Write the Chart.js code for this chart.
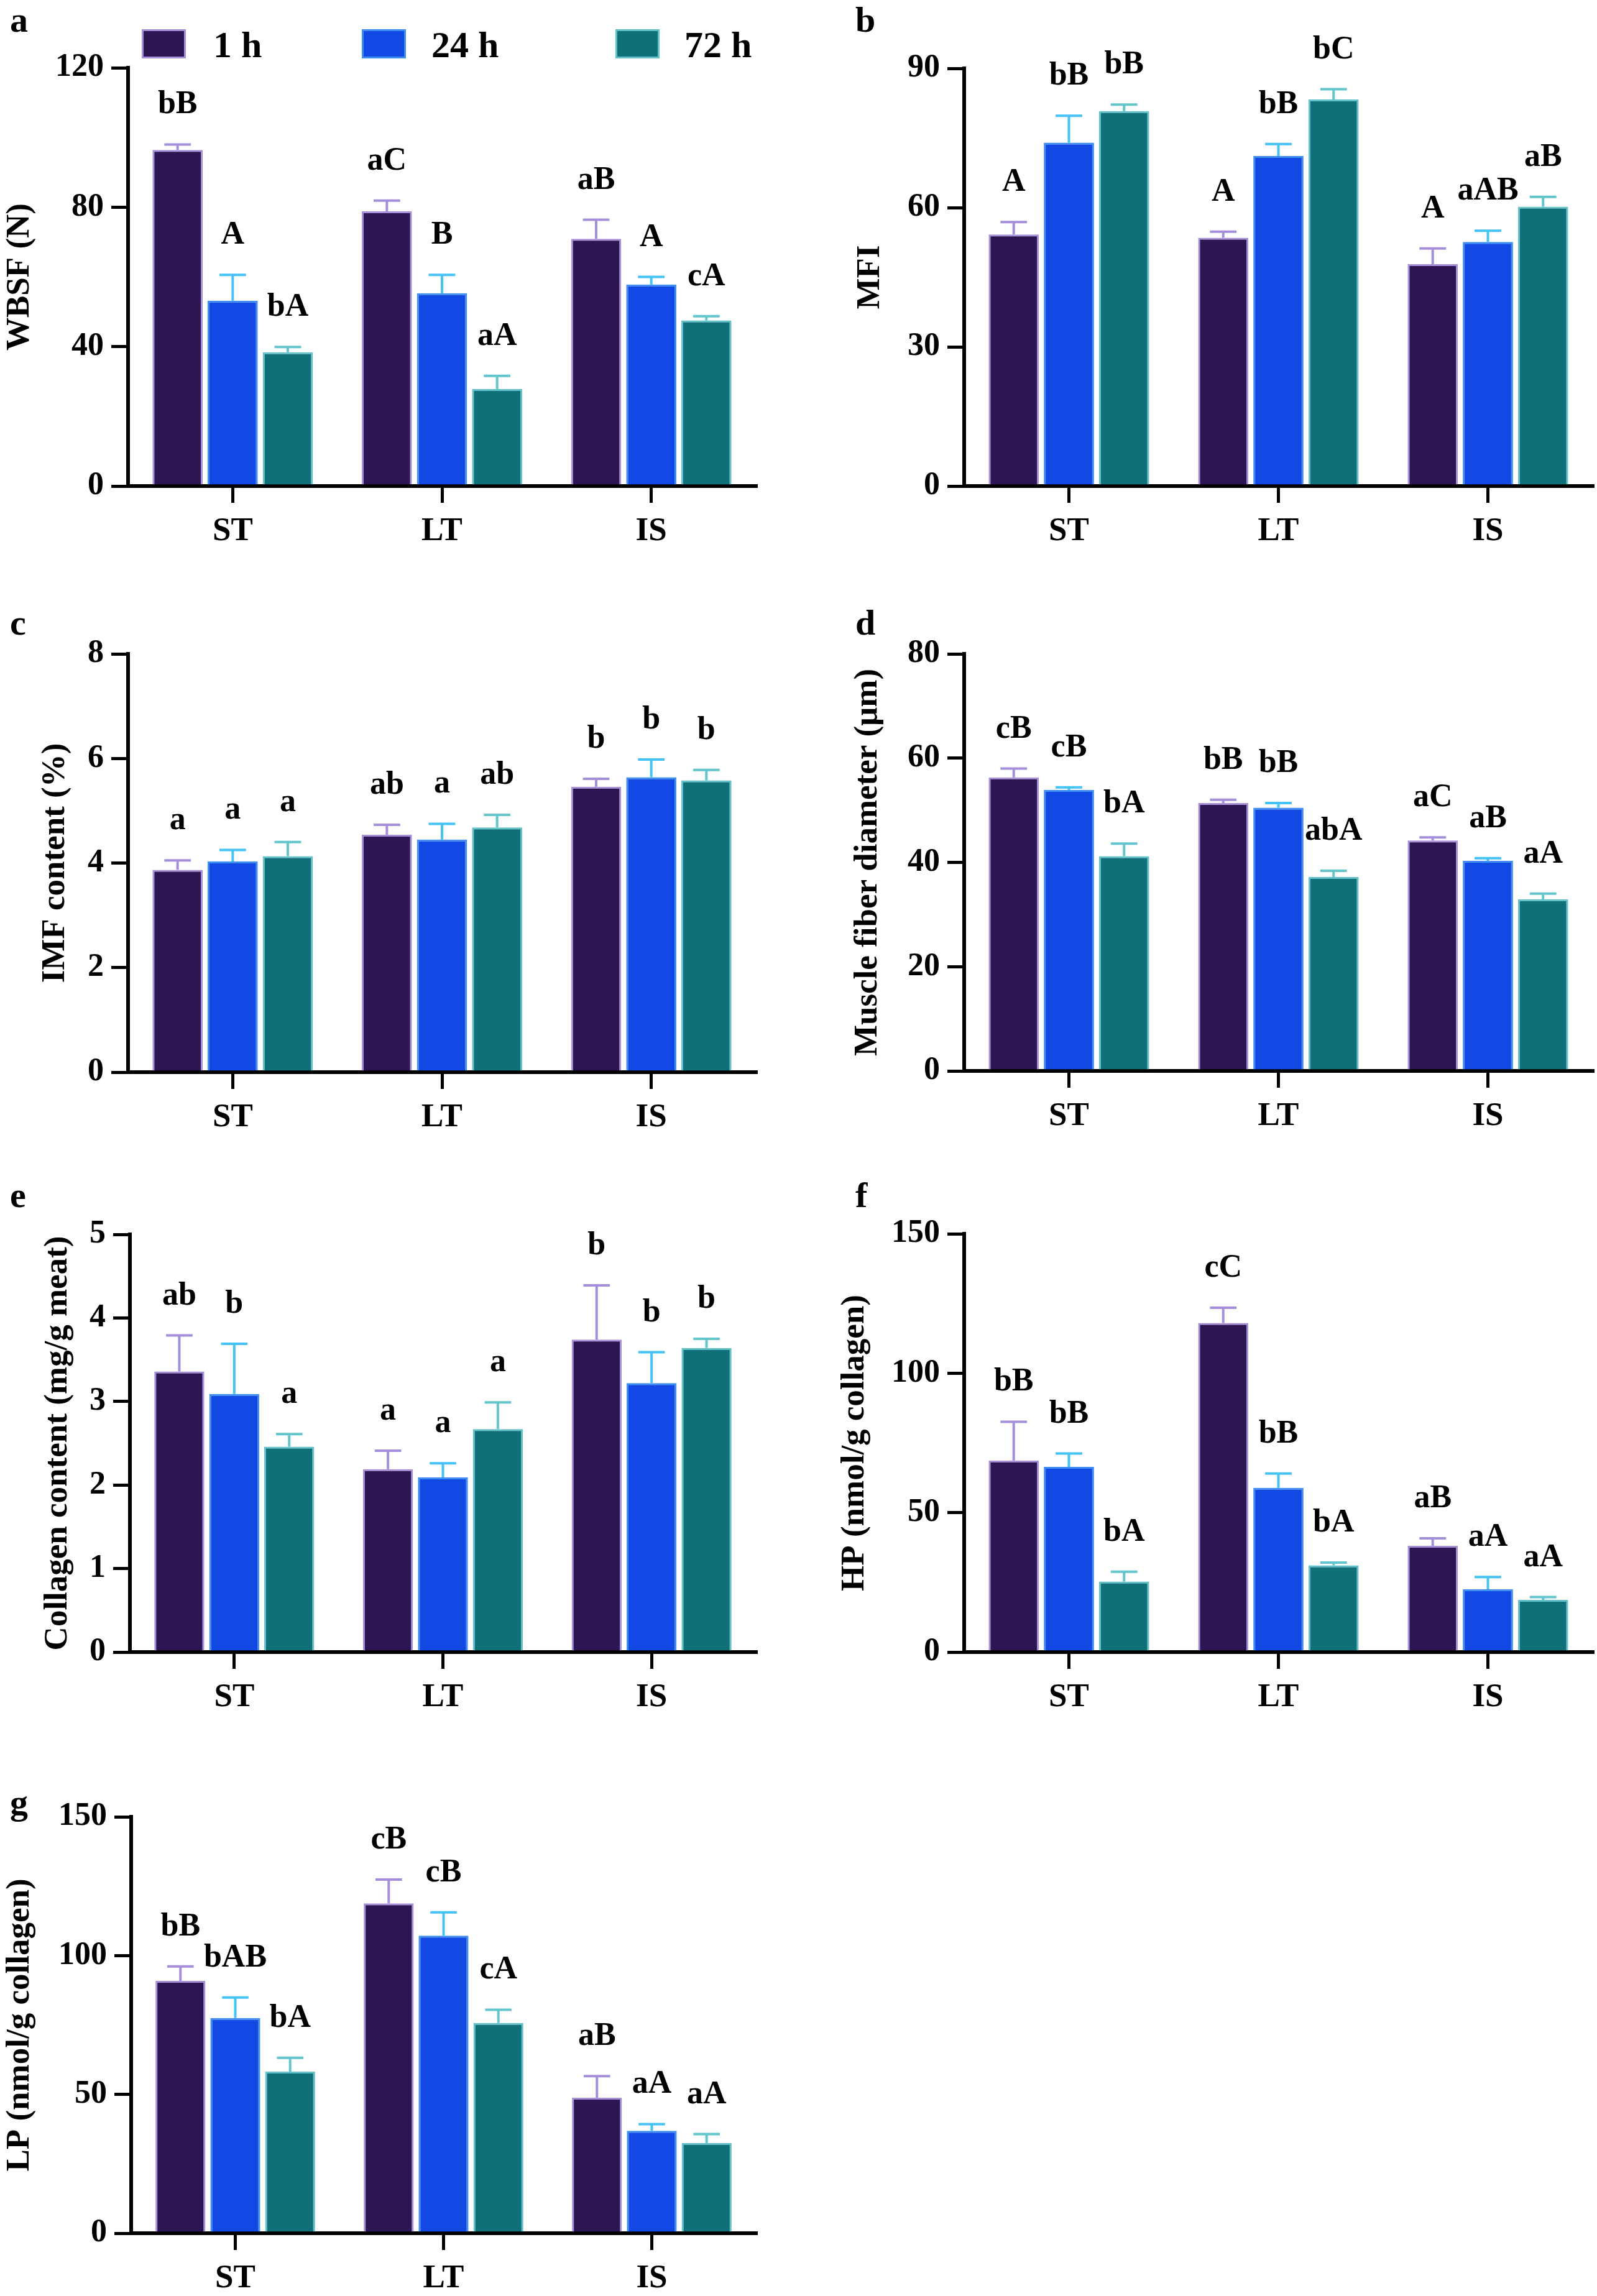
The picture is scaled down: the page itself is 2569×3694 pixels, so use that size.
<!DOCTYPE html>
<html>
<head>
<meta charset="utf-8">
<script src="https://cdn.jsdelivr.net/npm/chart.js@4.4.0/dist/chart.umd.min.js"></script>
<style>
  body { margin: 0; background: #fff; width: 2569px; height: 3694px; position: relative; overflow: hidden;
         font-family: "Liberation Serif", "Times New Roman", serif; }
  canvas { position: absolute; }
  .letter { position: absolute; font-weight: bold; font-size: 58px; line-height: 58px; color: #000; }
  .swatch { position: absolute; width: 71px; height: 47px; box-sizing: border-box; border: 3px solid; }
  .legtext { position: absolute; font-weight: bold; font-size: 60px; line-height: 60px; color: #000; white-space: nowrap; }
</style>
</head>
<body>
<script>
// categories and groups
const muscles = ["ST", "LT", "IS"];
const times = ["1 h", "24 h", "72 h"];

// each panel: rows are 1 h, 24 h, 72 h; columns ST, LT, IS
// a - WBSF (N)
const wbsfTicks = [0, 40, 80, 120];
const wbsfMean = [[96.4, 78.8, 70.9], [53.2, 55.3, 57.8], [38.4, 27.8, 47.5]];
const wbsfErr = [[1.6, 3.1, 5.5], [7.4, 5.3, 2.2], [1.5, 3.8, 1.2]];
const wbsfSig = [["bB", "aC", "aB"], ["A", "B", "A"], ["bA", "aA", "cA"]];

// b - MFI
const mfiTicks = [0, 30, 60, 90];
const mfiMean = [[54.2, 53.5, 47.8], [74.0, 71.1, 52.6], [80.8, 83.3, 60.2]];
const mfiErr = [[2.7, 1.3, 3.4], [5.8, 2.6, 2.4], [1.4, 2.2, 2.1]];
const mfiSig = [["A", "A", "A"], ["bB", "bB", "aAB"], ["bB", "bC", "aB"]];

// c - IMF content (%)
const imfTicks = [0, 2, 4, 6, 8];
const imfMean = [[3.87, 4.54, 5.46], [4.03, 4.45, 5.64], [4.13, 4.68, 5.58]];
const imfErr = [[0.18, 0.19, 0.15], [0.22, 0.30, 0.34], [0.27, 0.24, 0.20]];
const imfSig = [["a", "ab", "b"], ["a", "a", "b"], ["a", "ab", "b"]];

// d - Muscle fiber diameter
const fiberTicks = [0, 20, 40, 60, 80];
const fiberMean = [[56.3, 51.4, 44.2], [53.9, 50.5, 40.3], [41.2, 37.2, 32.9]];
const fiberErr = [[1.7, 0.6, 0.6], [0.5, 0.9, 0.5], [2.4, 1.2, 1.1]];
const fiberSig = [["cB", "bB", "aC"], ["cB", "bB", "aB"], ["bA", "abA", "aA"]];

// e - Collagen content
const collTicks = [0, 1, 2, 3, 4, 5];
const collMean = [[3.36, 2.19, 3.74], [3.09, 2.09, 3.22], [2.46, 2.67, 3.64]];
const collErr = [[0.43, 0.22, 0.65], [0.60, 0.17, 0.37], [0.15, 0.32, 0.11]];
const collSig = [["ab", "a", "b"], ["b", "a", "b"], ["a", "a", "b"]];

// f - HP
const hpTicks = [0, 50, 100, 150];
const hpMean = [[68.7, 118.0, 38.1], [66.4, 58.9, 22.5], [25.3, 31.1, 18.7]];
const hpErr = [[13.9, 5.5, 2.7], [4.8, 5.1, 4.4], [3.5, 1.0, 1.0]];
const hpSig = [["bB", "cC", "aB"], ["bB", "bB", "aA"], ["bA", "bA", "aA"]];

// g - LP
const lpTicks = [0, 50, 100, 150];
const lpMean = [[90.9, 118.8, 48.8], [77.5, 107.2, 36.9], [58.2, 75.7, 32.5]];
const lpErr = [[5.2, 8.6, 7.8], [7.4, 8.4, 2.4], [5.0, 4.8, 3.2]];
const lpSig = [["bB", "cB", "aB"], ["bAB", "cB", "aA"], ["bA", "cA", "aA"]];

const fillColors = ["#2c1552", "#1249e4", "#10707a"];
const edgeColors = ["#a890d8", "#3f8ff0", "#63c2c9"];
const errColors = ["#a58fdb", "#45c3f5", "#62c6cc"];
const FONT = '"Liberation Serif", "Times New Roman", serif';

// error bars + significance letters
const errorBarPlugin = {
  id: "errorBars",
  afterDatasetsDraw(chart) {
    const ctx = chart.ctx;
    const yScale = chart.scales.y;
    chart.data.datasets.forEach((ds, i) => {
      const meta = chart.getDatasetMeta(i);
      meta.data.forEach((bar, j) => {
        const top = yScale.getPixelForValue(ds.data[j] + ds.errors[j]);
        const cap = bar.width * 0.53;
        ctx.save();
        ctx.strokeStyle = ds.errorColor;
        ctx.lineWidth = 4;
        ctx.beginPath();
        ctx.moveTo(bar.x, bar.y);
        ctx.lineTo(bar.x, top);
        ctx.moveTo(bar.x - cap / 2, top);
        ctx.lineTo(bar.x + cap / 2, top);
        ctx.stroke();
        ctx.fillStyle = "#000";
        ctx.font = "bold 52px " + FONT;
        ctx.textAlign = "center";
        ctx.textBaseline = "alphabetic";
        ctx.fillText(ds.letters[j], bar.x, top - 50);
        ctx.restore();
      });
    });
  },
};

function makePanel(p) {
  const canvas = document.createElement("canvas");
  canvas.width = p.w;
  canvas.height = 60 + p.plotH + 110;
  canvas.style.left = p.x + "px";
  canvas.style.top = p.plotTop - 60 + "px";
  document.body.appendChild(canvas);

  const datasets = times.map((t, i) => ({
    label: t,
    data: p.mean[i],
    errors: p.err[i],
    letters: p.sig[i],
    errorColor: errColors[i],
    backgroundColor: fillColors[i],
    borderColor: edgeColors[i],
    borderWidth: 3,
    categoryPercentage: 0.79,
    barPercentage: 0.91,
  }));

  const ticks = p.ticks;
  new Chart(canvas, {
    type: "bar",
    data: { labels: muscles, datasets },
    options: {
      responsive: false,
      animation: false,
      layout: { padding: { top: 60, right: p.padRight, left: 0, bottom: 0 } },
      plugins: { legend: { display: false }, tooltip: { enabled: false } },
      scales: {
        x: {
          grid: { offset: false, drawOnChartArea: false, color: "#000", lineWidth: 5, tickLength: 27 },
          border: { color: "#000", width: 6 },
          ticks: { color: "#000", font: { family: FONT, size: 53, weight: "bold" }, padding: 15 },
          afterFit: (s) => { s.height = 110; },
        },
        y: {
          min: ticks[0],
          max: ticks[ticks.length - 1],
          afterBuildTicks: (s) => { s.ticks = ticks.map((v) => ({ value: v })); },
          grid: { drawOnChartArea: false, color: "#000", lineWidth: 5, tickLength: 27 },
          border: { color: "#000", width: 6 },
          ticks: { color: "#000", font: { family: FONT, size: 52, weight: "bold" }, padding: 12 },
          title: {
            display: true,
            text: p.title,
            color: "#000",
            font: { family: FONT, size: 53, weight: "bold", lineHeight: 1.2 },
            padding: { top: p.titlePad, bottom: 0 },
          },
          afterFit: (s) => { s.width = p.axisX - p.x; },
        },
      },
    },
    plugins: [errorBarPlugin],
  });
}

const panels = [
  { x: 0, w: 1290, axisX: 206, padRight: 74, plotTop: 109, plotH: 673, titlePad: 1,
    title: "WBSF (N)", ticks: wbsfTicks, mean: wbsfMean, err: wbsfErr, sig: wbsfSig },
  { x: 1290, w: 1279, axisX: 1551, padRight: 7, plotTop: 110, plotH: 672, titlePad: 79,
    title: "MFI", ticks: mfiTicks, mean: mfiMean, err: mfiErr, sig: mfiSig },
  { x: 0, w: 1290, axisX: 206, padRight: 74, plotTop: 1052, plotH: 673, titlePad: 58,
    title: "IMF content (%)", ticks: imfTicks, mean: imfMean, err: imfErr, sig: imfSig },
  { x: 1290, w: 1279, axisX: 1551, padRight: 7, plotTop: 1052, plotH: 671, titlePad: 75,
    title: "Muscle fiber diameter (\u03bcm)", ticks: fiberTicks, mean: fiberMean, err: fiberErr, sig: fiberSig },
  { x: 0, w: 1290, axisX: 209, padRight: 74, plotTop: 1986, plotH: 672, titlePad: 62,
    title: "Collagen content (mg/g meat)", ticks: collTicks, mean: collMean, err: collErr, sig: collSig },
  { x: 1290, w: 1279, axisX: 1551, padRight: 7, plotTop: 1985, plotH: 673, titlePad: 54,
    title: "HP (nmol/g collagen)", ticks: hpTicks, mean: hpMean, err: hpErr, sig: hpSig },
  { x: 0, w: 1290, axisX: 211, padRight: 74, plotTop: 2923, plotH: 670, titlePad: 1,
    title: "LP (nmol/g collagen)", ticks: lpTicks, mean: lpMean, err: lpErr, sig: lpSig },
];
panels.forEach(makePanel);

// panel letters
[["a", 16, 3], ["b", 1376, 3], ["c", 16, 973], ["d", 1376, 973],
 ["e", 16, 1894], ["f", 1376, 1894], ["g", 16, 2871]].forEach(([t, x, y]) => {
  const d = document.createElement("div");
  d.className = "letter";
  d.textContent = t;
  d.style.left = x + "px";
  d.style.top = y + "px";
  document.body.appendChild(d);
});

// legend (top of panel a)
const legendX = [[228, 343], [582, 694], [990, 1101]];
times.forEach((t, i) => {
  const s = document.createElement("div");
  s.className = "swatch";
  s.style.left = legendX[i][0] + "px";
  s.style.top = "47px";
  s.style.background = fillColors[i];
  s.style.borderColor = edgeColors[i];
  document.body.appendChild(s);
  const l = document.createElement("div");
  l.className = "legtext";
  l.textContent = t;
  l.style.left = legendX[i][1] + "px";
  l.style.top = "42px";
  document.body.appendChild(l);
});
</script>
</body>
</html>
